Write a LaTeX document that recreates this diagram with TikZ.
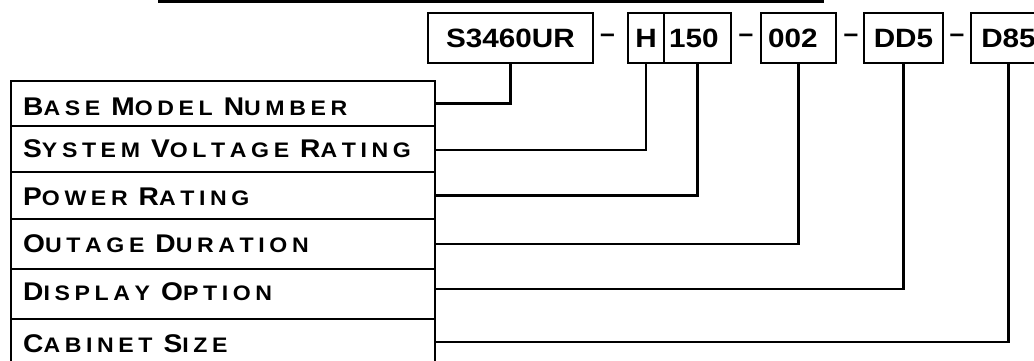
\documentclass[tikz,border=0pt]{standalone}
\usepackage{fontspec}
\setmainfont{Liberation Sans}
\newfontfamily\boxfont[FakeStretch=1.12]{Liberation Sans}
\newfontfamily\lblfont[LetterSpace=22,FakeStretch=1.1,Kerning=Off]{Liberation Sans}
\newcommand\smc[2]{{\fontsize{25.6}{28}\selectfont #1}#2}
\begin{document}
\begin{tikzpicture}[x=1pt,y=-1pt,
  box/.style={draw, line width=2pt, minimum height=50pt, inner sep=0pt, anchor=north west,
    font=\boxfont\bfseries\fontsize{26.5}{28}\selectfont, text height=19pt, text depth=0pt},
  dsh/.style={anchor=base, inner sep=0pt, font=\bfseries\fontsize{26.5}{28}\selectfont},
  rowbox/.style={draw, line width=2pt, minimum width=424pt, inner sep=0pt, anchor=north west},
  lbl/.style={anchor=base west, inner sep=0pt, font=\lblfont\bfseries\fontsize{21}{24}\selectfont},
  conn/.style={line width=2.2pt}]
\clip (0,0) rectangle (1034,360);
\fill[white] (0,0) rectangle (1034,360);
% top rule
\coordinate (tla) at (158,1);
\coordinate (tlb) at (824,1);
\draw[line width=3pt] (tla) -- (tlb);
% code boxes
\node[box, minimum width=165pt] (s34) at (427,12) {S3460UR};
\node[box, minimum width=36pt] (h) at (627,12) {H};
\node[box, text width=57pt, inner xsep=5pt, align=left] (p150) at (663,12) {150};
\node[box, text width=61pt, inner xsep=7pt, align=left] (o002) at (760,12) {002};
\node[box, minimum width=79pt] (dd5) at (863,12) {DD5};
\node[box, minimum width=75pt] (d85) at (970,12) {D85};
% dashes
\node[dsh] (da) at (607.5,42) {–};
\node[dsh] (db) at (746,42) {–};
\node[dsh] (dc) at (851,42) {–};
\node[dsh] (dd) at (957,42) {–};
% table rows
\node[rowbox, minimum height=45pt] (r1) at (10,80) {};
\node[rowbox, minimum height=46pt] (r2) at (10,125) {};
\node[rowbox, minimum height=47pt] (r3) at (10,171) {};
\node[rowbox, minimum height=50pt] (r4) at (10,218) {};
\node[rowbox, minimum height=50pt] (r5) at (10,268) {};
\node[rowbox, minimum height=50pt] (r6) at (10,318) {};
% labels
\node[lbl] (t1) at (23,115) {\smc{B}{ASE} \smc{M}{ODEL} \smc{N}{UMBER}};
\node[lbl] (t2) at (23,157) {\smc{S}{YSTEM} \smc{V}{OLTAGE} \smc{R}{ATING}};
\node[lbl] (t3) at (23,205) {\smc{P}{OWER} \smc{R}{ATING}};
\node[lbl] (t4) at (23,252) {\smc{O}{UTAGE} \smc{D}{URATION}};
\node[lbl] (t5) at (23,300) {\smc{D}{ISPLAY} \smc{O}{PTION}};
\node[lbl] (t6) at (23,352) {\smc{C}{ABINET} \smc{S}{IZE}};
% connectors
\draw[conn] (r1.east) -| (s34.south);
\draw[conn] ([yshift=-1pt]r2.east) -| (h.south);
\draw[conn] (r3.east) -| (p150.south);
\draw[conn] (r4.east) -| (o002.south);
\draw[conn] ([yshift=5pt]r5.east) -| (dd5.south);
\draw[conn] ([yshift=2pt]r6.east) -| (d85.south);
\end{tikzpicture}
\end{document}
